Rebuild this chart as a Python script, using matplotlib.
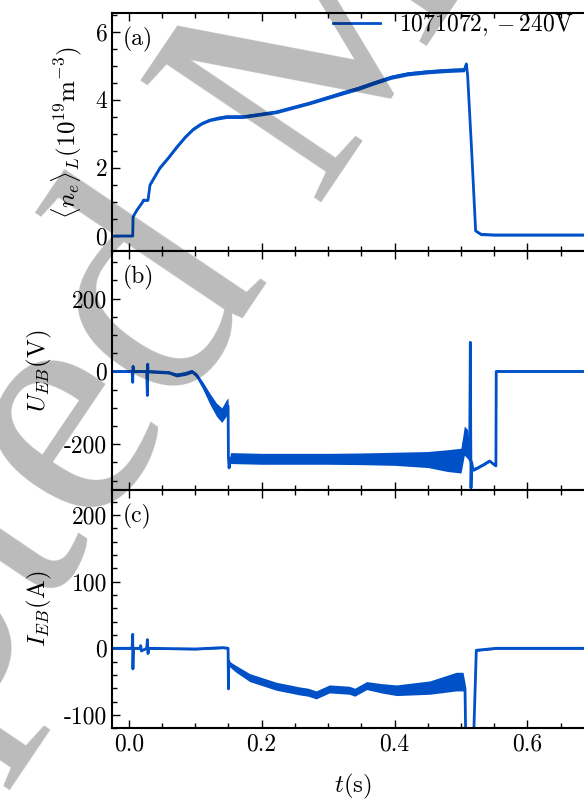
import matplotlib
matplotlib.use("Agg")
import matplotlib.pyplot as plt
from matplotlib.ticker import MultipleLocator

plt.rcParams['font.family'] = 'serif'
plt.rcParams['font.serif'] = ['cmr10', 'DejaVu Serif']
plt.rcParams['mathtext.fontset'] = 'cm'
plt.rcParams['axes.unicode_minus'] = False
plt.rcParams['axes.formatter.use_mathtext'] = False

LINE_COLOR = '#0050c8'

# (a) line averaged density, 1e19 m^-3
t_a = [-0.025, 0.006, 0.0065, 0.012, 0.021, 0.022, 0.029, 0.032, 0.047, 0.06,
       0.072, 0.085, 0.097, 0.11, 0.122, 0.135, 0.147, 0.172, 0.222, 0.272,
       0.322, 0.345, 0.37, 0.395, 0.42, 0.45, 0.48, 0.505, 0.508, 0.510,
       0.516, 0.522, 0.53, 0.55, 0.6, 0.7]
n_a = [0, 0, 0.56, 0.75, 1.0, 1.05, 1.05, 1.5, 2.0, 2.3,
       2.6, 2.9, 3.13, 3.3, 3.4, 3.46, 3.5, 3.5, 3.64, 3.9,
       4.2, 4.33, 4.5, 4.66, 4.76, 4.82, 4.86, 4.88, 5.05, 4.7,
       2.5, 0.15, 0.05, 0.03, 0.03, 0.03]
hw_a = [0.02, 0.02, 0.02, 0.03, 0.03, 0.03, 0.03, 0.04, 0.04, 0.04,
        0.04, 0.04, 0.04, 0.04, 0.04, 0.05, 0.05, 0.05, 0.05, 0.05,
        0.06, 0.06, 0.06, 0.06, 0.06, 0.06, 0.06, 0.06, 0.03, 0.03,
        0.03, 0.04, 0.04, 0.03, 0.03, 0.03]

# (b) biasing voltage U_EB, V
t_b = [-0.025, 0.005, 0.006, 0.0065, 0.007, 0.027, 0.028, 0.0285, 0.029, 0.06,
       0.072, 0.085, 0.095, 0.102, 0.112, 0.122, 0.132, 0.140, 0.147, 0.1495,
       0.150, 0.151, 0.153, 0.2, 0.25, 0.3, 0.35, 0.4, 0.45, 0.48,
       0.50, 0.505, 0.510, 0.513, 0.514, 0.515, 0.516, 0.518, 0.525, 0.535,
       0.543, 0.552, 0.5525, 0.553, 0.7]
u_b = [0, 0, -30, 14, 0, 0, -66, 20, 0, -3,
       -10, -6, 0, -10, -40, -75, -105, -120, -100, -95,
       -237, -265, -238, -240, -240, -240, -240, -240, -242, -245,
       -245, -190, -200, -230, 80, -320, -250, -270, -265, -255,
       -246, -259, -259, 0, 0]
hw_b = [3, 3, 0, 0, 3, 3, 0, 0, 4, 4,
        5, 5, 5, 6, 10, 15, 18, 20, 22, 22,
        0, 0, 15, 15, 15, 15, 16, 18, 22, 30,
        34, 40, 40, 20, 0, 0, 10, 5, 3, 3,
        3, 3, 3, 2, 2]

# (c) biasing current I_EB, A
t_c = [-0.025, 0.005, 0.006, 0.0063, 0.007, 0.017, 0.018, 0.019, 0.027, 0.028,
       0.029, 0.03, 0.1, 0.142, 0.1495, 0.150, 0.1505, 0.152, 0.16, 0.182,
       0.222, 0.257, 0.27, 0.282, 0.302, 0.332, 0.340, 0.358, 0.38, 0.403,
       0.453, 0.493, 0.503, 0.506, 0.508, 0.517, 0.523, 0.553, 0.7]
i_c = [0, 0, 21, -31, 0, 0, 4, -4, 0, 13,
       -8, 0, -1, 1, 0, -61, -20, -24, -30, -44,
       -57, -64, -66, -70, -61, -63, -66, -56, -60, -63,
       -59, -50, -50, -60, -200, -200, -3, 0, 0]
hw_c = [1.5, 1.5, 0, 0, 1.5, 1.5, 0, 0, 1.5, 0,
        0, 1.5, 1.5, 1.5, 1.5, 0, 3, 4, 5, 6,
        6, 6, 6, 6, 6, 6, 6, 6, 7, 8,
        10, 14, 14, 8, 0, 0, 1.5, 1.5, 1.5]

xticks = [0.0, 0.2, 0.4, 0.6]


def draw(ax, t, y, hw):
    lo = [v - h for v, h in zip(y, hw)]
    hi = [v + h for v, h in zip(y, hw)]
    ax.fill_between(t, lo, hi, color=LINE_COLOR, lw=0)
    ax.plot(t, y, color=LINE_COLOR, lw=2.0)


fig, axes = plt.subplots(3, 1, sharex=True, figsize=(5.84, 8.02), dpi=100)
fig.subplots_adjust(left=0.192, right=1.017, top=0.984, bottom=0.092, hspace=0)
ax_a, ax_b, ax_c = axes

draw(ax_a, t_a, n_a, hw_a)
ax_a.plot([], [], color=LINE_COLOR, lw=2.0, label=r'$1071072, -240$V')
draw(ax_b, t_b, u_b, hw_b)
draw(ax_c, t_c, i_c, hw_c)

ax_a.set_ylim(-0.45, 6.55)
ax_a.yaxis.set_major_locator(MultipleLocator(2))
ax_a.yaxis.set_minor_locator(MultipleLocator(0.5))
ax_a.set_ylabel(r'$\langle n_e\rangle_L(10^{19}\mathrm{m}^{-3})$', fontsize=18,
                labelpad=8)

ax_b.set_ylim(-325, 330)
ax_b.yaxis.set_major_locator(MultipleLocator(200))
ax_b.yaxis.set_minor_locator(MultipleLocator(50))
ax_b.set_ylabel(r'$U_{EB}(\mathrm{V})$', fontsize=18, labelpad=7)

ax_c.set_ylim(-120, 238)
ax_c.yaxis.set_major_locator(MultipleLocator(100))
ax_c.yaxis.set_minor_locator(MultipleLocator(20))
ax_c.set_ylabel(r'$I_{EB}(\mathrm{A})$', fontsize=18, labelpad=7)

ax_c.set_xlim(-0.025, 0.70)
ax_c.set_xticks(xticks)
ax_c.set_xticklabels(['%.1f' % v for v in xticks])
ax_c.xaxis.set_minor_locator(MultipleLocator(0.05))
ax_c.set_xlabel(r'$t(\mathrm{s})$', fontsize=18, labelpad=12)

for ax, tag in zip(axes, ['(a)', '(b)', '(c)']):
    ax.tick_params(which='both', direction='in', top=True, right=True,
                   labelsize=17, width=1.0)
    ax.tick_params(which='major', length=6)
    ax.tick_params(which='minor', length=3.5)
    for sp in ax.spines.values():
        sp.set_linewidth(1.5)
    ax.text(0.023, 0.89, tag, transform=ax.transAxes, fontsize=17,
            ha='left', va='center')

ax_a.legend(loc='upper right', bbox_to_anchor=(0.958, 1.0), frameon=False,
            fontsize=17, borderpad=0.0, borderaxespad=0.0,
            handlelength=2.0, handletextpad=0.8)

# watermark of the source page
fig.text(0.627, 0.829, 'Accepted Manuscript', rotation=56, fontsize=240,
         family='Liberation Serif', color='k', alpha=0.27,
         ha='center', va='baseline', rotation_mode='anchor', zorder=10)

fig.savefig('out.png', dpi=100)
